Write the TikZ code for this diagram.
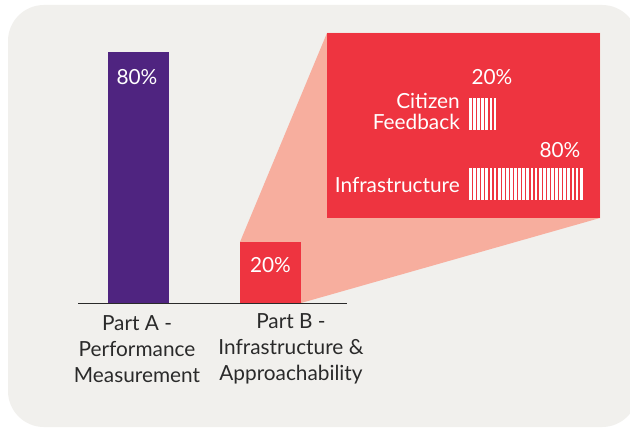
\documentclass[tikz,border=0pt]{standalone}
\usepackage{fontspec}
\setmainfont{Lato}
\definecolor{bgc}{HTML}{F1F0ED}
\definecolor{purp}{HTML}{4F2480}
\definecolor{redc}{HTML}{EE3440}
\definecolor{salm}{HTML}{F7AE9E}
\definecolor{axc}{HTML}{2A2A2A}
\tikzset{
  bar/.style={anchor=north west,inner sep=0pt,outer sep=0pt},
  val/.style={text=white,font=\fontsize{20.8}{24}\selectfont,inner sep=0pt},
  lab/.style={text=white,font=\fontsize{20.8}{21}\selectfont,inner sep=0pt,align=right,anchor=east},
  cat/.style={text=axc,font=\fontsize{20.8}{26}\selectfont,inner sep=0pt,align=center},
  stripe/.style={fill=white,draw=none}
}
\begin{document}
\begin{tikzpicture}[x=1pt,y=-1pt]
\useasboundingbox (0,0) rectangle (630,428);
\fill[white] (0,0) rectangle (630,428);
\begin{scope}
\clip (0,0) rectangle (630,428);
\fill[bgc,rounded corners=36pt] (8,5) rectangle (638,427);
\end{scope}
% salmon projection
\fill[salm] (240,242) -- (327,33) -- (600,33) -- (600,218) -- (301,303) -- (301,242) -- cycle;
% bars
\node[bar,fill=purp,minimum width=61pt,minimum height=251pt] (barA) at (108,52) {};
\node[bar,fill=redc,minimum width=61pt,minimum height=61pt] (barB) at (240,242) {};
\node[bar,fill=redc,minimum width=273pt,minimum height=185pt] (zoom) at (327,33) {};
\node[val] (vA) at (137,77) {80\%};
\node[val] (vB) at (270.5,265) {20\%};
% axis
\coordinate (axL) at (78,303.5);
\coordinate (axR) at (347,303.5);
\draw[axc,line width=1.1pt] (axL) -- (axR);
% categories
\node[cat] (cA) at (137,349) {Part A -\\Performance\\Measurement};
\node[cat] (cB) at (291,349) {Part B -\\Infrastructure \&\\Approachability};
% inner breakdown
\node[bar,minimum width=28pt,minimum height=32pt] (sb1) at (469,98) {};
\node[bar,minimum width=115pt,minimum height=32pt] (sb2) at (469,168) {};
\foreach \i in {0,...,6}{\fill[stripe] (469+\i*4.1,98) rectangle ++(2.8,32);}
\foreach \i in {0,...,27}{\fill[stripe] (469+\i*4.1,168) rectangle ++(2.8,32);}
\node[val] (v1) at (492,77) {20\%};
\node[val] (v2) at (560,150) {80\%};
\node[lab] (l1) at (460,111) {Citizen\\Feedback};
\node[lab] (l2) at (460,185) {Infrastructure};
\end{tikzpicture}
\end{document}
